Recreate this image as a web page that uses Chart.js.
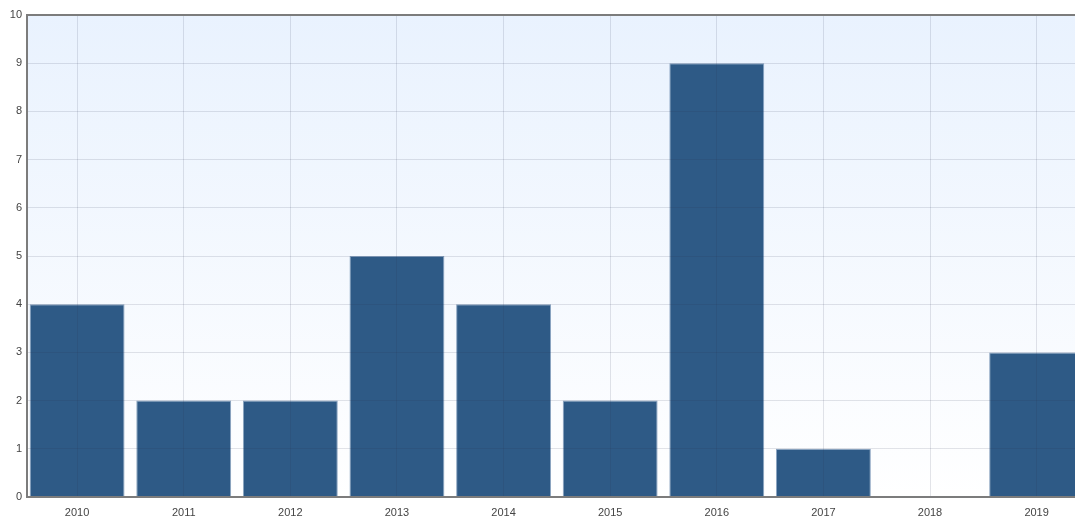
<!DOCTYPE html>
<html>
<head>
<meta charset="utf-8">
<script src="https://cdn.jsdelivr.net/npm/chart.js@4/dist/chart.umd.min.js"></script>
<style>
  html, body { margin: 0; padding: 0; background: #fff; overflow: hidden; }
  #wrap { width: 1075px; height: 517px; position: relative; }
</style>
</head>
<body>
<div id="wrap"><canvas id="yearChart"></canvas></div>
<script>
// data dibaca dari gambar referensi
const years = ['2010', '2011', '2012', '2013', '2014', '2015', '2016', '2017', '2018', '2019'];
const counts = [4, 2, 2, 5, 4, 2, 9, 1, 0, 3];
const yTicks = [0, 1, 2, 3, 4, 5, 6, 7, 8, 9, 10];

const BAR_COLOR = '#2e5a86';
const GRID_COLOR = 'rgba(40, 50, 80, 0.13)';
const AXIS_COLOR = '#7c7c7c';

// latar gradien biru muda -> putih di area plot, plus garis tepi (kiri, atas, bawah)
const plotFrame = {
    id: 'plotFrame',
    beforeDraw(chart) {
        const { ctx, chartArea: a } = chart;
        const g = ctx.createLinearGradient(0, a.top, 0, a.bottom);
        g.addColorStop(0, '#e9f2fe');
        g.addColorStop(1, '#ffffff');
        ctx.save();
        ctx.fillStyle = g;
        ctx.fillRect(a.left, a.top, a.right - a.left, a.bottom - a.top);
        ctx.restore();
    },
    afterDraw(chart) {
        const { ctx, chartArea: a } = chart;
        ctx.save();
        ctx.strokeStyle = AXIS_COLOR;
        ctx.lineWidth = 2;
        ctx.beginPath();
        ctx.moveTo(a.right, a.top);
        ctx.lineTo(a.left, a.top);
        ctx.lineTo(a.left, a.bottom);
        ctx.lineTo(a.right, a.bottom);
        ctx.stroke();
        ctx.restore();
    },
};

const ctx = document.getElementById('yearChart');
new Chart(ctx, {
    type: 'bar',
    data: {
        datasets: [{
            data: counts.map((v, i) => ({ x: i, y: v })),
            backgroundColor: BAR_COLOR,
            borderColor: 'rgba(90, 125, 165, 0.7)',
            borderWidth: 1,
            categoryPercentage: 1,
            barPercentage: 0.89,
        }],
    },
    options: {
        responsive: true,
        maintainAspectRatio: false,
        animation: false,
        layout: { padding: { top: 15, left: 0, right: 0, bottom: 0 } },
        plugins: {
            legend: { display: false },
            tooltip: { enabled: false },
        },
        scales: {
            x: {
                type: 'linear',
                min: -0.47,
                max: 9.36,
                offset: false,
                afterBuildTicks: (scale) => {
                    scale.ticks = years.map((_, i) => ({ value: i }));
                },
                afterFit: (scale) => { scale.height = 20; },
                ticks: {
                    autoSkip: false,
                    maxRotation: 0,
                    padding: 9,
                    color: '#444',
                    font: { family: 'Liberation Sans', size: 11 },
                    callback: (v) => years[v] ?? '',
                },
                grid: { color: GRID_COLOR, drawTicks: false, offset: false, z: 1 },
                border: { display: false },
            },
            y: {
                min: 0,
                max: 10,
                afterBuildTicks: (scale) => {
                    scale.ticks = yTicks.map((v) => ({ value: v }));
                },
                afterFit: (scale) => { scale.width = 27; },
                ticks: {
                    padding: 5,
                    color: '#444',
                    font: { family: 'Liberation Sans', size: 11 },
                },
                grid: { color: GRID_COLOR, drawTicks: false, z: 1 },
                border: { display: false },
            },
        },
    },
    plugins: [plotFrame],
});
</script>
</body>
</html>
